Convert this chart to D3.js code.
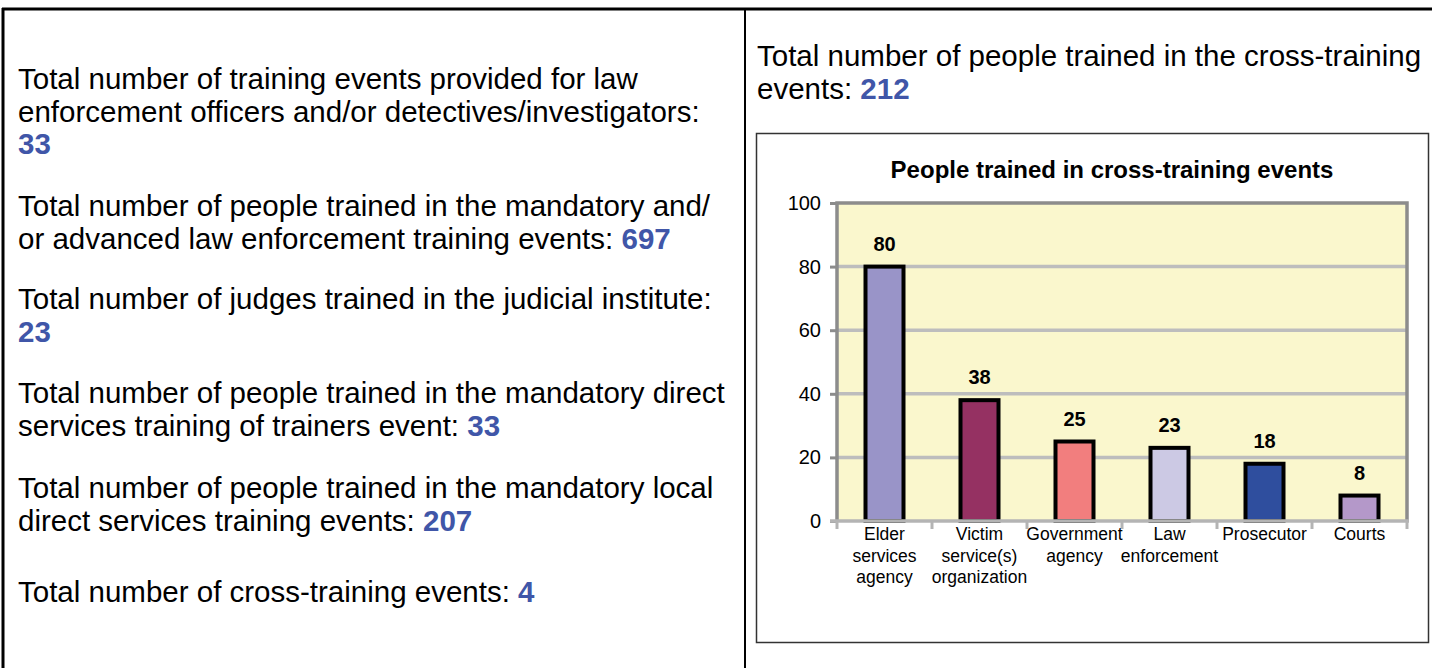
<!DOCTYPE html>
<html>
<head>
<meta charset="utf-8">
<script src="https://cdn.jsdelivr.net/npm/d3@7"></script>
<style>
  html, body { margin: 0; padding: 0; background: #ffffff; }
  svg { display: block; font-family: "Liberation Sans", Arial, sans-serif; }
</style>
</head>
<body>
<svg id="chart" width="1432" height="668"></svg>
<script>
// ---------- data ----------
const categories = [
  ["Elder", "services", "agency"],
  ["Victim", "service(s)", "organization"],
  ["Government", "agency"],
  ["Law", "enforcement"],
  ["Prosecutor"],
  ["Courts"]
];
const values = [80, 38, 25, 23, 18, 8];
const barColors = ["#9994c8", "#953162", "#f27e7e", "#ccc9e4", "#2f4e9e", "#b498c9"];
const yTicks = [0, 20, 40, 60, 80, 100];
const chartTitle = "People trained in cross-training events";

// left panel statements: text lines, last line ends with a highlighted number
const leftStatements = [
  { lines: ["Total number of training events provided for law", "enforcement officers and/or detectives/investigators:", ""], value: "33" },
  { lines: ["Total number of people trained in the mandatory and/", "or advanced law enforcement training events: "], value: "697" },
  { lines: ["Total number of judges trained in the judicial institute:", ""], value: "23" },
  { lines: ["Total number of people trained in the mandatory direct", "services training of trainers event: "], value: "33" },
  { lines: ["Total number of people trained in the mandatory local", "direct services training events: "], value: "207" },
  { lines: ["Total number of cross-training events: "], value: "4" }
];
const rightStatement = { lines: ["Total number of people trained in the cross-training", "events: "], value: "212" };

// ---------- layout ----------
const svg = d3.select("#chart");
const numColor = "#4056a8";
const textSize = 29.5;
const lineH = 32.5;

// table borders
svg.append("line").attr("x1", 2).attr("x2", 1432).attr("y1", 9).attr("y2", 9)
  .attr("stroke", "#000").attr("stroke-width", 3);
svg.append("line").attr("x1", 3).attr("x2", 3).attr("y1", 8).attr("y2", 668)
  .attr("stroke", "#000").attr("stroke-width", 3);
svg.append("line").attr("x1", 745).attr("x2", 745).attr("y1", 8).attr("y2", 668)
  .attr("stroke", "#000").attr("stroke-width", 2);

// left statements
const leftStartY = [89, 216, 309, 403, 498, 602];
leftStatements.forEach((st, i) => {
  st.lines.forEach((ln, j) => {
    const t = svg.append("text")
      .attr("x", 18).attr("y", leftStartY[i] + j * lineH)
      .attr("font-size", textSize).attr("fill", "#000");
    t.append("tspan").text(ln);
    if (j === st.lines.length - 1) {
      t.append("tspan").attr("font-weight", "bold").attr("fill", numColor).text(st.value);
    }
  });
});

// right statement
rightStatement.lines.forEach((ln, j) => {
  const t = svg.append("text")
    .attr("x", 757).attr("y", 66 + j * lineH)
    .attr("font-size", textSize).attr("fill", "#000");
  t.append("tspan").text(ln);
  if (j === rightStatement.lines.length - 1) {
    t.append("tspan").attr("font-weight", "bold").attr("fill", numColor).text(rightStatement.value);
  }
});

// chart box
svg.append("rect").attr("x", 756.5).attr("y", 133.5).attr("width", 672).attr("height", 509)
  .attr("fill", "#fff").attr("stroke", "#333").attr("stroke-width", 1.5);

const plot = { left: 837, right: 1407, top: 203, bottom: 521 };
const x = d3.scaleBand().domain(d3.range(categories.length))
  .range([plot.left, plot.right]).paddingInner(0.6).paddingOuter(0.3);
const xb = d3.scaleBand().domain(d3.range(categories.length))
  .range([plot.left, plot.right]);
const y = d3.scaleLinear().domain([0, 100]).range([plot.bottom, plot.top]);

// title
svg.append("text").attr("x", 1112).attr("y", 178)
  .attr("text-anchor", "middle").attr("font-size", 24).attr("font-weight", "bold")
  .text(chartTitle);

// plot background
svg.append("rect").attr("x", plot.left).attr("y", plot.top)
  .attr("width", plot.right - plot.left).attr("height", plot.bottom - plot.top)
  .attr("fill", "#faf7cd");

// gridlines
svg.append("g").selectAll("line").data(yTicks.filter(d => d > 0 && d < 100)).join("line")
  .attr("x1", plot.left).attr("x2", plot.right)
  .attr("y1", d => y(d)).attr("y2", d => y(d))
  .attr("stroke", "#bdbdbd").attr("stroke-width", 3.5);

// plot border (left, top, right)
svg.append("path")
  .attr("d", `M${plot.left},${plot.bottom} L${plot.left},${plot.top} L${plot.right},${plot.top} L${plot.right},${plot.bottom}`)
  .attr("fill", "none").attr("stroke", "#8c8c8c").attr("stroke-width", 3.5);

// y axis
const yAxis = d3.axisLeft(y).tickValues(yTicks).tickSize(7).tickPadding(9);
const gy = svg.append("g").attr("transform", `translate(${plot.left},0)`).call(yAxis);
gy.select(".domain").remove();
gy.selectAll(".tick line").attr("stroke", "#8c8c8c").attr("stroke-width", 3);
gy.selectAll(".tick text").attr("font-size", 20).attr("font-family", "Liberation Sans, Arial, sans-serif")
  .attr("fill", "#000");

// bars
svg.append("g").selectAll("rect").data(values).join("rect")
  .attr("x", (d, i) => x(i)).attr("width", x.bandwidth())
  .attr("y", d => y(d)).attr("height", d => y(0) - y(d))
  .attr("fill", (d, i) => barColors[i])
  .attr("stroke", "#000").attr("stroke-width", 4);

// x axis baseline and ticks
svg.append("line").attr("x1", plot.left - 7).attr("x2", plot.right + 2)
  .attr("y1", plot.bottom).attr("y2", plot.bottom)
  .attr("stroke", "#b4b4b4").attr("stroke-width", 3.5);
const bounds = d3.range(categories.length + 1).map(i => plot.left + i * xb.step());
svg.append("g").selectAll("line").data(bounds).join("line")
  .attr("x1", d => d).attr("x2", d => d)
  .attr("y1", plot.bottom).attr("y2", plot.bottom + 8)
  .attr("stroke", "#b4b4b4").attr("stroke-width", 3);

// value labels
svg.append("g").selectAll("text").data(values).join("text")
  .attr("x", (d, i) => x(i) + x.bandwidth() / 2)
  .attr("y", d => y(d) - 16)
  .attr("text-anchor", "middle").attr("font-size", 20).attr("font-weight", "bold")
  .text(d => d);

// category labels
categories.forEach((lines, i) => {
  const t = svg.append("text")
    .attr("x", xb(i) + xb.bandwidth() / 2)
    .attr("y", 540)
    .attr("text-anchor", "middle").attr("font-size", 17.5).attr("fill", "#000");
  lines.forEach((ln, j) => {
    t.append("tspan").attr("x", xb(i) + xb.bandwidth() / 2).attr("dy", j === 0 ? 0 : 21.5).text(ln);
  });
});
</script>
</body>
</html>
